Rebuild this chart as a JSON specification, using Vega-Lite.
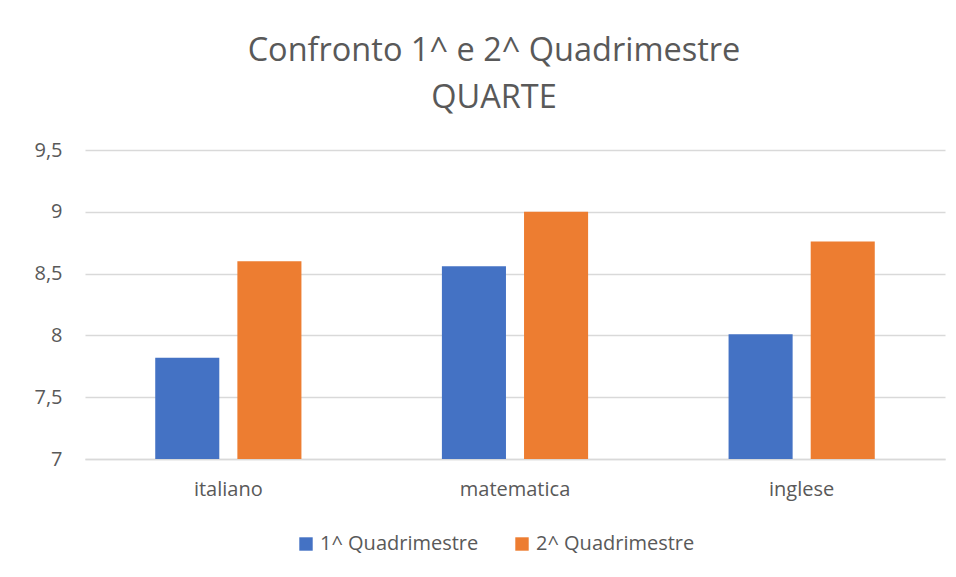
{
  "$schema": "https://vega.github.io/schema/vega-lite/v6.json",
  "autosize": "none",
  "width": 860,
  "height": 309,
  "padding": {"left": 85, "top": 150, "right": 11, "bottom": 118},
  "background": "white",
  "title": {
    "text": ["Confronto 1^ e 2^ Quadrimestre", "QUARTE"],
    "anchor": "middle",
    "frame": "group",
    "fontSize": 32.5,
    "font": "Open Sans",
    "fontWeight": "normal",
    "color": "#595959",
    "lineHeight": 47,
    "offset": 26,
    "dx": -21
  },
  "data": {
    "values": [
      {"materia": "italiano", "periodo": "1^ Quadrimestre", "voto": 7.82},
      {"materia": "italiano", "periodo": "2^ Quadrimestre", "voto": 8.6},
      {"materia": "matematica", "periodo": "1^ Quadrimestre", "voto": 8.56},
      {"materia": "matematica", "periodo": "2^ Quadrimestre", "voto": 9.0},
      {"materia": "inglese", "periodo": "1^ Quadrimestre", "voto": 8.01},
      {"materia": "inglese", "periodo": "2^ Quadrimestre", "voto": 8.76}
    ]
  },
  "mark": {"type": "bar", "clip": true},
  "encoding": {
    "x": {
      "field": "materia",
      "type": "nominal",
      "sort": ["italiano", "matematica", "inglese"],
      "scale": {"paddingInner": 0.49, "paddingOuter": 0.245},
      "axis": {
        "title": null,
        "labelAngle": 0,
        "ticks": false,
        "domain": true,
        "domainColor": "#d9d9d9",
        "domainWidth": 1.5,
        "labelFontSize": 20,
        "labelFont": "Open Sans",
        "labelColor": "#595959",
        "labelPadding": 20
      }
    },
    "xOffset": {
      "field": "periodo",
      "type": "nominal",
      "scale": {"paddingInner": 0.22, "paddingOuter": 0}
    },
    "y": {
      "field": "voto",
      "type": "quantitative",
      "scale": {"domain": [7, 9.5], "zero": false, "nice": false},
      "axis": {
        "title": null,
        "values": [7, 7.5, 8, 8.5, 9, 9.5],
        "format": ".1~f",
        "ticks": false,
        "domain": false,
        "grid": true,
        "gridColor": "#d9d9d9",
        "gridWidth": 1.5,
        "labelFontSize": 20,
        "labelFont": "Open Sans",
        "labelColor": "#595959",
        "labelPadding": 23
      }
    },
    "color": {
      "field": "periodo",
      "type": "nominal",
      "scale": {"domain": ["1^ Quadrimestre", "2^ Quadrimestre"], "range": ["#4472C4", "#ED7D31"]},
      "legend": {
        "title": null,
        "orient": "none",
        "direction": "horizontal",
        "legendX": 211,
        "legendY": 384,
        "symbolType": "square",
        "symbolSize": 180,
        "symbolStrokeWidth": 0,
        "symbolOpacity": 1,
        "labelFontSize": 20,
        "labelFont": "Open Sans",
        "labelColor": "#595959",
        "labelOffset": 4,
        "columnPadding": 33
      }
    }
  },
  "config": {
    "view": {"stroke": null},
    "locale": {
      "number": {"decimal": ",", "thousands": ".", "grouping": [3], "currency": ["€", ""]}
    }
  }
}
